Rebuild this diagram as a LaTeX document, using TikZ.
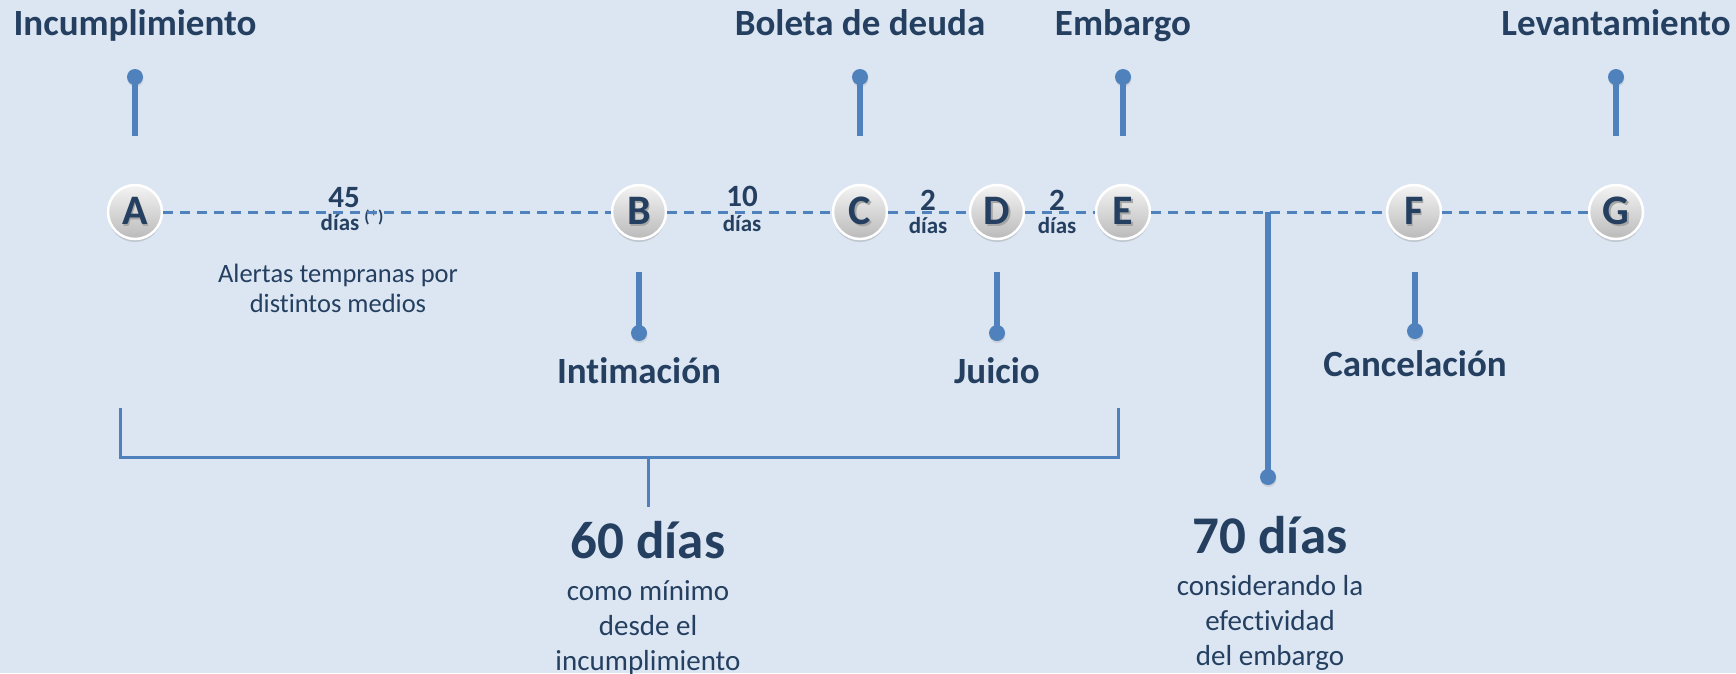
\documentclass[tikz,border=0pt]{standalone}
\usepackage{fontspec}
\setmainfont[Ligatures={NoCommon}]{Carlito}
\usetikzlibrary{positioning,shadows}
\definecolor{bgblue}{HTML}{DCE6F2}
\definecolor{lineblue}{HTML}{4F81BD}
\definecolor{navy}{HTML}{243F60}
\definecolor{circtop}{HTML}{F4F4F4}
\definecolor{circbot}{HTML}{BABABA}
\newcommand{\letshd}[1]{\makebox[0pt][l]{\kern1.5pt\raisebox{-1.5pt}{\textcolor{black!35}{#1}}}#1}

\begin{document}
\begin{tikzpicture}[x=1pt, y=-1pt,
  every node/.style={text=navy, inner sep=0pt},
  evt/.style={font=\fontsize{37}{44}\selectfont\bfseries, anchor=base},
  milestone/.style={circle, minimum size=54pt, draw=white, line width=2.5pt,
                    top color=circtop, bottom color=circbot,
                    font=\fontsize{42}{50}\selectfont\bfseries,
                    drop shadow={opacity=0.3, shadow xshift=0pt, shadow yshift=-3pt}},
  bead/.style={circle, fill=lineblue, minimum size=16pt,
               drop shadow={opacity=0.2, shadow xshift=0.5pt, shadow yshift=-2pt}},
  stem/.style={draw=lineblue, line width=5.5pt},
  tline/.style={draw=lineblue, line width=3pt, dash pattern=on 10pt off 7pt},
  brk/.style={draw=lineblue, line width=3pt},
  qty/.style={font=\fontsize{31}{36}\selectfont\bfseries, anchor=base},
  qunit/.style={font=\fontsize{23}{28}\selectfont\bfseries, anchor=base},
  total/.style={font=\fontsize{53}{60}\selectfont\bfseries, anchor=base},
  remark/.style={font=\fontsize{29}{35}\selectfont, align=center, anchor=base}
]
\fill[bgblue] (0,0) rectangle (1736,673);
\useasboundingbox (0,0) rectangle (1736,673);

\node[evt] (incump) at (135,35) {Incumplimiento};
\node[evt] (boleta) at (860,35) {Boleta de deuda};
\node[evt] (embargo) at (1123,35) {Embargo};
\node[evt] (levant) at (1616,35) {Levantamiento};

\node[milestone] (a) at (135,212) {\letshd{A}};
\node[milestone] (b) at (639,212) {\letshd{B}};
\node[milestone] (c) at (860,212) {\letshd{C}};
\node[milestone] (d) at (997,212) {\letshd{D}};
\node[milestone] (e) at (1123,212) {\letshd{E}};
\node[milestone] (f) at (1414,212) {\letshd{F}};
\node[milestone] (g) at (1616,212) {\letshd{G}};

\node[qty] (n45) at (344,207) {45};
\node[qunit] (u45) at (340,230) {días\rlap{\kern5pt\raisebox{8pt}{\fontsize{17}{20}\selectfont(*)}}};
\node[qty] (n10) at (742,206) {10};
\node[qunit] (u10) at (742,231) {días};
\node[qty] (n2a) at (928,210) {2};
\node[qunit] (u2a) at (928,233) {días};
\node[qty] (n2b) at (1057,210) {2};
\node[qunit] (u2b) at (1057,233) {días};

\node[remark, font=\fontsize{26.5}{30}\selectfont] (alert) at (338,312)
  {Alertas tempranas por\\distintos medios};

\node[evt] (intim) at (639,383) {Intimación};
\node[evt] (juicio) at (997,383) {Juicio};
\node[evt] (cancel) at (1415,376) {Cancelación};

\node[bead] (pa) at (135,77) {};
\node[bead] (pc) at (860,77) {};
\node[bead] (pe) at (1123,77) {};
\node[bead] (pg) at (1616,77) {};
\node[bead] (pb) at (639,333) {};
\node[bead] (pd) at (997,333) {};
\node[bead] (pf) at (1415,331) {};
\node[bead] (p70) at (1268,477) {};

\coordinate (sa) at (135,136);
\coordinate (sc) at (860,136);
\coordinate (se) at (1123,136);
\coordinate (sg) at (1616,136);
\coordinate (sb) at (639,272);
\coordinate (sd) at (997,272);
\coordinate (sf) at (1415,272);
\coordinate (s70) at (1268,212);

\node[total] (sixty) at (648,558) {60 días};
\node[remark] (sixtytxt) at (648,670) {como mínimo\\desde el\\incumplimiento};
\node[total] (seventy) at (1270,553) {70 días};
\node[remark] (seventytxt) at (1270,665) {considerando la\\efectividad\\del embargo};

\coordinate (bl) at (120,408);
\coordinate (br) at (1118,408);
\coordinate (bm) at (648,457);
\coordinate (bme) at (648,507);

\draw[tline] (a) -- (b);
\draw[tline] (b) -- (c);
\draw[tline] (c) -- (d);
\draw[tline] (d) -- (e);
\draw[tline] (e) -- (f);
\draw[tline] (f) -- (g);

\draw[stem] (sa) -- (pa.center);
\draw[stem] (sc) -- (pc.center);
\draw[stem] (se) -- (pe.center);
\draw[stem] (sg) -- (pg.center);
\draw[stem] (sb) -- (pb.center);
\draw[stem] (sd) -- (pd.center);
\draw[stem] (sf) -- (pf.center);
\draw[stem] (s70) -- (p70.center);

\draw[brk] (bl) -- ++(0,49) -| (br);
\draw[brk] (bm) -- (bme);
\end{tikzpicture}
\end{document}
